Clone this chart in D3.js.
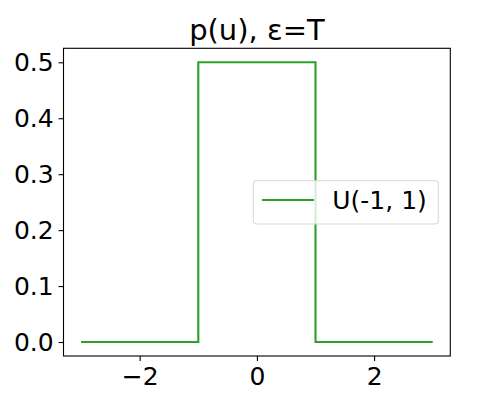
<!DOCTYPE html>
<html>
<head>
<meta charset="utf-8">
<script src="https://cdn.jsdelivr.net/npm/d3@7"></script>
<style>
  body { margin: 0; background: #fff; }
  text { font-family: "DejaVu Sans", sans-serif; }
</style>
</head>
<body>
<div id="chart"></div>
<script>
// step density of U(-1, 1)
var uValues = [-3, -1, -1, 1, 1, 3];
var pValues = [0, 0, 0.5, 0.5, 0, 0];
var xTicks = [-2, 0, 2];
var yTicks = [0.0, 0.1, 0.2, 0.3, 0.4, 0.5];
var seriesName = "U(-1, 1)";
var title = "p(u), ε=T";

var svgWidth = 500;
var svgHeight = 400;

var margin = { top: 48.3, right: 49.7, bottom: 44, left: 63.5 };
var width = svgWidth - margin.left - margin.right;
var height = svgHeight - margin.top - margin.bottom;

var svg = d3.select("#chart")
  .append("svg")
  .attr("width", svgWidth)
  .attr("height", svgHeight);

var chartGroup = svg.append("g")
  .attr("transform", `translate(${margin.left}, ${margin.top})`);

var x = d3.scaleLinear().domain([-3.3, 3.3]).range([0, width]);
var y = d3.scaleLinear().domain([-0.025, 0.525]).range([height, 0]);

var fmtX = d => d < 0 ? "\u2212" + Math.abs(d) : String(d);

var bottomAxis = d3.axisBottom(x).tickValues(xTicks).tickFormat(fmtX)
  .tickSizeInner(4.9).tickSizeOuter(0).tickPadding(4.9);
var leftAxis = d3.axisLeft(y).tickValues(yTicks).tickFormat(d3.format(".1f"))
  .tickSizeInner(4.9).tickSizeOuter(0).tickPadding(4.9);

var gx = chartGroup.append("g")
  .attr("transform", `translate(0, ${height})`)
  .call(bottomAxis);
var gy = chartGroup.append("g").call(leftAxis);

[gx, gy].forEach(g => {
  g.select(".domain").remove();
  g.selectAll("line").attr("stroke", "#000").attr("stroke-width", 1.1);
  g.selectAll("text").attr("fill", "#000").style("font-size", "25px");
});
gx.selectAll("text").attr("dy", "0.76em");

var line = d3.line().x(d => x(d[0])).y(d => y(d[1]));
var pts = uValues.map((u, i) => [u, pValues[i]]);

chartGroup.append("path")
  .datum(pts)
  .attr("d", line)
  .attr("fill", "none")
  .attr("stroke", "#2ca02c")
  .attr("stroke-width", 2.1)
  .attr("stroke-linejoin", "miter");

// frame
chartGroup.append("rect")
  .attr("width", width)
  .attr("height", height)
  .attr("fill", "none")
  .attr("stroke", "#000")
  .attr("stroke-width", 1.1);

// legend
var legend = svg.append("g").attr("transform", "translate(253.3, 180.7)");
legend.append("rect")
  .attr("width", 185)
  .attr("height", 43.3)
  .attr("rx", 3)
  .attr("fill", "rgba(255,255,255,0.8)")
  .attr("stroke", "#d5d5d5")
  .attr("stroke-width", 1);
legend.append("line")
  .attr("x1", 8.7).attr("x2", 60.7)
  .attr("y1", 19.3).attr("y2", 19.3)
  .attr("stroke", "#2ca02c")
  .attr("stroke-width", 2.1);
legend.append("text")
  .attr("x", 79)
  .attr("y", 28.5)
  .style("font-size", "25px")
  .text(seriesName);

svg.append("text")
  .attr("x", margin.left + width / 2)
  .attr("y", 40)
  .attr("text-anchor", "middle")
  .style("font-size", "29px")
  .text(title);
</script>
</body>
</html>
